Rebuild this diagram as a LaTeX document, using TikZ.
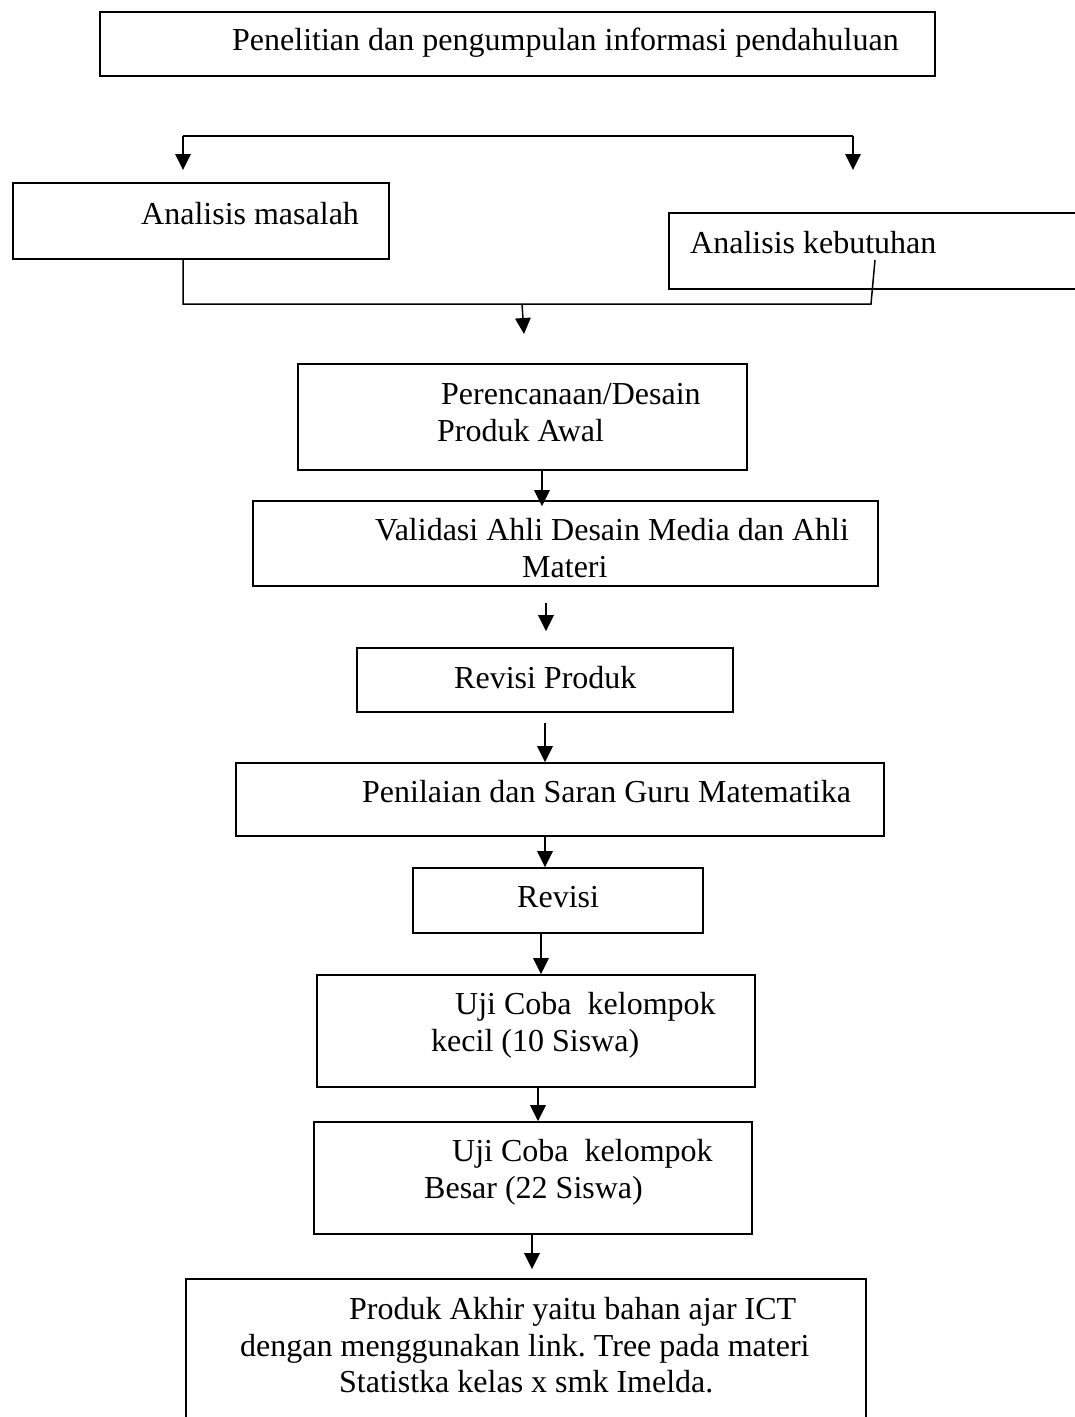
\documentclass[tikz,border=0pt]{standalone}
\usepackage{fontspec}
\setmainfont{Liberation Serif}
\usetikzlibrary{arrows.meta,fit}
\frenchspacing

\begin{document}
\begin{tikzpicture}[x=1pt,y=-1pt,
  box/.style={draw, line width=1.7pt, rectangle, inner sep=0pt},
  txt/.style={anchor=base west, inner sep=0pt, font=\fontsize{32}{37}\selectfont},
  wire/.style={line width=1.5pt},
  arr/.style={line width=1.5pt, -{Triangle[length=16pt,width=15.5pt]}}]

% page frame
\clip (0,0) rectangle (1075,1417);
\fill[white] (0,0) rectangle (1075,1417);

% boxes
\node[box, fit={(100,12)(935,76)}] (b1) {};
\node[box, fit={(13,183)(389,259)}] (b2) {};
\node[box, fit={(669,213)(1090,289)}] (b3) {};
\node[box, fit={(298,364)(747,470)}] (b4) {};
\node[box, fit={(253,501)(878,586)}] (b5) {};
\node[box, fit={(357,648)(733,712)}] (b6) {};
\node[box, fit={(236,763)(884,836)}] (b7) {};
\node[box, fit={(413,868)(703,933)}] (b8) {};
\node[box, fit={(317,975)(755,1087)}] (b9) {};
\node[box, fit={(314,1122)(752,1234)}] (b10) {};
\node[box, fit={(186,1279)(866,1440)}] (b11) {};

% labels
\node[txt] (t1) at (232,50) {Penelitian dan pengumpulan informasi pendahuluan};
\node[txt] (t2) at (141,224) {Analisis masalah};
\node[txt] (t3) at (690,253) {Analisis kebutuhan};
\node[txt] (t4a) at (441,404) {Perencanaan/Desain};
\node[txt] (t4b) at (437,441) {Produk Awal};
\node[txt] (t5a) at (375,540) {Validasi Ahli Desain Media dan Ahli};
\node[txt] (t5b) at (522,577) {Materi};
\node[txt] (t6) at (454,688) {Revisi Produk};
\node[txt] (t7) at (362,802) {Penilaian dan Saran Guru Matematika};
\node[txt] (t8) at (517,907) {Revisi};
\node[txt] (t9a) at (455,1014) {Uji Coba\ \ kelompok};
\node[txt] (t9b) at (431,1051) {kecil (10 Siswa)};
\node[txt] (t10a) at (452,1161) {Uji Coba\ \ kelompok};
\node[txt] (t10b) at (424,1198) {Besar (22 Siswa)};
\node[txt] (t11a) at (349,1319) {Produk Akhir yaitu bahan ajar ICT};
\node[txt] (t11b) at (240,1356) {dengan menggunakan link. Tree pada materi};
\node[txt] (t11c) at (339,1392) {Statistka kelas x smk Imelda.};

% split into the two analyses
\coordinate (sL) at (183,136);
\coordinate (sR) at (853,136);
\coordinate (tL) at (183,170);
\coordinate (tR) at (853,170);
\draw[wire] (sL) -- (sR);
\draw[arr] (sL) -- (tL);
\draw[arr] (sR) -- (tR);

% merge of the two analyses
\coordinate (m1) at (183,304);
\coordinate (m2) at (871,304);
\coordinate (m3) at (875,260);
\coordinate (mA) at (522,304);
\coordinate (mB) at (524,334);
\draw[wire] (b2.south -| m1) -- (m1) -- (m2) -- (m3);
\draw[arr] (mA) -- (mB);

% main chain
\draw[arr] (b4.south -| 542,0) -- ([yshift=-6pt]b5.north -| 542,0);
\draw[arr, shorten <=16pt, shorten >=16pt] (b5.south -| 546,0) -- (b6.north -| 546,0);
\draw[arr, shorten <=10pt] (b6.south -| 545,0) -- (b7.north -| 545,0);
\draw[arr] (b7.south -| 545,0) -- (b8.north -| 545,0);
\draw[arr] (b8.south -| 541,0) -- (b9.north -| 541,0);
\draw[arr] (b9.south -| 538,0) -- (b10.north -| 538,0);
\draw[arr, shorten >=9pt] (b10.south -| 532,0) -- (b11.north -| 532,0);
\end{tikzpicture}
\end{document}
